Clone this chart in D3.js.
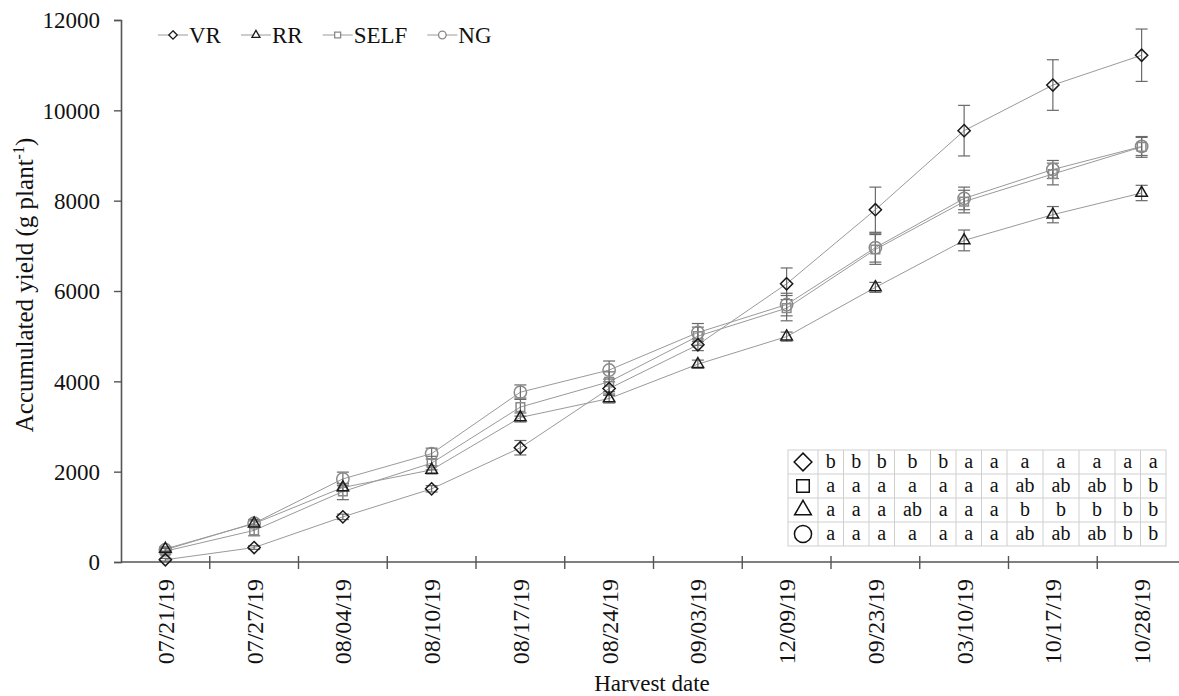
<!DOCTYPE html>
<html>
<head>
<meta charset="utf-8">
<script src="https://cdn.jsdelivr.net/npm/d3@7"></script>
<style>
body { margin: 0; background: #fff; }
svg text { font-family: "Liberation Serif", "Times New Roman", serif; fill: #111; }
</style>
</head>
<body>
<div class="chart"></div>
<script>
// data
var dates = ["07/21/19", "07/27/19", "08/04/19", "08/10/19", "08/17/19", "08/24/19",
             "09/03/19", "12/09/19", "09/23/19", "03/10/19", "10/17/19", "10/28/19"];
var yTicks = [0, 2000, 4000, 6000, 8000, 10000, 12000];

var vr     = [50, 320, 1000, 1620, 2530, 3840, 4810, 6160, 7800, 9550, 10560, 11220];
var vrErr  = [30, 40, 60, 70, 160, 150, 130, 350, 500, 560, 560, 580];
var rr     = [290, 850, 1650, 2040, 3200, 3620, 4380, 4990, 6080, 7120, 7690, 8170];
var rrErr  = [50, 60, 80, 90, 100, 100, 90, 100, 110, 230, 180, 170];
var self   = [240, 700, 1560, 2190, 3430, 3990, 5000, 5620, 6920, 7980, 8590, 9190];
var selfErr = [60, 120, 180, 150, 200, 220, 200, 280, 330, 250, 240, 230];
var ng     = [270, 860, 1840, 2400, 3760, 4250, 5080, 5700, 6960, 8050, 8690, 9200];
var ngErr  = [50, 80, 150, 120, 160, 200, 200, 250, 320, 250, 200, 200];

// letters of the table (rows: VR, SELF, RR, NG)
var tableRows = ["VR", "SELF", "RR", "NG"];
var letters = [
    ["b", "b", "b", "b", "b", "a", "a", "a", "a", "a", "a", "a"],
    ["a", "a", "a", "a", "a", "a", "a", "ab", "ab", "ab", "b", "b"],
    ["a", "a", "a", "ab", "a", "a", "a", "b", "b", "b", "b", "b"],
    ["a", "a", "a", "a", "a", "a", "a", "ab", "ab", "ab", "b", "b"]
];

var series = [
    {name: "VR", values: vr, err: vrErr, symbol: d3.symbolDiamond2, stroke: "#1a1a1a"},
    {name: "RR", values: rr, err: rrErr, symbol: d3.symbolTriangle2, stroke: "#1a1a1a"},
    {name: "SELF", values: self, err: selfErr, symbol: d3.symbolSquare2, stroke: "#8a8a8a"},
    {name: "NG", values: ng, err: ngErr, symbol: d3.symbolCircle, stroke: "#8a8a8a"}
];
var byName = {};
series.forEach(function(s) { byName[s.name] = s; });

// canvas
var width = 1179, height = 696;
var svg = d3.select(".chart").append("svg")
            .attr("width", width)
            .attr("height", height);
var plot = {left: 121, right: 1186, top: 20, bottom: 562};

// scales
var xScale = d3.scaleBand().domain(dates).range([plot.left, plot.right]);
var yScale = d3.scaleLinear().domain([0, 12000]).range([plot.bottom, plot.top]);
var cx = function(i) { return xScale(dates[i]) + xScale.bandwidth() / 2; };

// axes
var yAxis = d3.axisLeft(yScale).tickValues(yTicks).tickSize(7).tickPadding(14).tickFormat(d3.format("d"));
var gy = svg.append("g").attr("transform", "translate(" + plot.left + ",0)").call(yAxis);
gy.select(".domain").attr("stroke", "#555").attr("stroke-width", 1.6);
gy.selectAll(".tick line").attr("stroke", "#555").attr("stroke-width", 1.4);
gy.selectAll(".tick text").attr("font-size", 23).attr("dy", "0.34em");

var gx = svg.append("g").attr("transform", "translate(0," + plot.bottom + ")");
gx.append("line").attr("x1", plot.left).attr("x2", plot.right)
  .attr("stroke", "#555").attr("stroke-width", 1.6);
gx.selectAll(".xtick").data(dates.slice(1)).enter().append("line")
  .attr("class", "xtick")
  .attr("x1", function(d) { return xScale(d); })
  .attr("x2", function(d) { return xScale(d); })
  .attr("y1", -6).attr("y2", 7)
  .attr("stroke", "#555").attr("stroke-width", 1.4);
gx.selectAll(".xlabel").data(dates).enter().append("text")
  .attr("class", "xlabel")
  .attr("transform", function(d) {
      return "translate(" + (xScale(d) + xScale.bandwidth() / 2) + ",17) rotate(-90)";
  })
  .attr("text-anchor", "end")
  .attr("dy", "0.35em")
  .attr("font-size", 24)
  .text(function(d) { return d; });

// axis titles
svg.append("text")
   .attr("x", 652).attr("y", 691)
   .attr("text-anchor", "middle")
   .attr("font-size", 23)
   .text("Harvest date");
var yt = svg.append("text")
   .attr("transform", "translate(33,285) rotate(-90)")
   .attr("text-anchor", "middle")
   .attr("font-size", 25);
yt.append("tspan").text("Accumulated yield (g  plant");
yt.append("tspan").attr("dy", -9).attr("font-size", 16).text("-1");
yt.append("tspan").attr("dy", 9).text(")");

// lines
var line = d3.line()
    .x(function(d, i) { return cx(i); })
    .y(function(d) { return yScale(d); });
svg.selectAll(".series-line").data(series).enter().append("path")
   .attr("class", "series-line")
   .attr("d", function(s) { return line(s.values); })
   .attr("fill", "none")
   .attr("stroke", "#9a9a9a")
   .attr("stroke-width", 1);

// error bars
series.forEach(function(s) {
    var g = svg.append("g").attr("class", "err");
    s.values.forEach(function(v, i) {
        var x = cx(i), y1 = yScale(v + s.err[i]), y2 = yScale(v - s.err[i]);
        g.append("line").attr("x1", x).attr("x2", x).attr("y1", y1).attr("y2", y2);
        g.append("line").attr("x1", x - 6).attr("x2", x + 6).attr("y1", y1).attr("y2", y1);
        g.append("line").attr("x1", x - 6).attr("x2", x + 6).attr("y1", y2).attr("y2", y2);
    });
    g.selectAll("line").attr("stroke", "#6a6a6a").attr("stroke-width", 1.2);
});

// markers
series.slice().reverse().forEach(function(s) {
    svg.selectAll(".m-" + s.name).data(s.values).enter().append("path")
       .attr("class", "m-" + s.name)
       .attr("transform", function(d, i) { return "translate(" + cx(i) + "," + yScale(d) + ")"; })
       .attr("d", d3.symbol().type(s.symbol).size(s.name === "NG" ? 120 : 95))
       .attr("fill", "none")
       .attr("stroke", s.stroke)
       .attr("stroke-width", 1.5);
});

// legend
var legend = svg.append("g").attr("transform", "translate(158,35)");
var lx = 0;
series.forEach(function(s) {
    var item = legend.append("g").attr("transform", "translate(" + lx + ",0)");
    item.append("line").attr("x1", 0).attr("x2", 30).attr("stroke", "#9a9a9a").attr("stroke-width", 1);
    item.append("path").attr("transform", "translate(15,0)")
        .attr("d", d3.symbol().type(s.symbol).size(45))
        .attr("fill", "#fff").attr("stroke", s.stroke).attr("stroke-width", 1.3);
    var t = item.append("text").attr("x", 31).attr("dy", "0.35em").attr("font-size", 23).text(s.name);
    lx += 31 + t.node().getComputedTextLength() + 20;
});

// table
var table = svg.append("g").attr("class", "table");
var tLeft = 788, tTop = 450, rowH = 24, symW = 30;
var colW = d3.range(dates.length).map(function(j) {
    var wide = letters.some(function(r) { return r[j].length > 1; });
    return wide ? 36 : 25.5;
});
var colX = [tLeft + symW];
colW.forEach(function(w, j) { colX.push(colX[j] + w); });
var tRight = colX[colX.length - 1];

table.append("rect").attr("x", tLeft).attr("y", tTop)
     .attr("width", tRight - tLeft).attr("height", rowH * 4)
     .attr("fill", "#fff").attr("stroke", "#cfcfcf");
[tLeft + symW].concat(colX.slice(1, -1)).forEach(function(x) {
    table.append("line").attr("x1", x).attr("x2", x).attr("y1", tTop).attr("y2", tTop + rowH * 4)
         .attr("stroke", "#cfcfcf");
});
d3.range(1, 4).forEach(function(r) {
    table.append("line").attr("x1", tLeft).attr("x2", tRight)
         .attr("y1", tTop + r * rowH).attr("y2", tTop + r * rowH)
         .attr("stroke", "#cfcfcf");
});
tableRows.forEach(function(name, r) {
    var yc = tTop + r * rowH + rowH / 2;
    table.append("path").attr("transform", "translate(" + (tLeft + symW / 2) + "," + yc + ")")
         .attr("d", d3.symbol().type(byName[name].symbol).size(name === "NG" ? 230 : 200))
         .attr("fill", "none").attr("stroke", "#111").attr("stroke-width", 1.5);
    letters[r].forEach(function(l, j) {
        table.append("text")
             .attr("x", colX[j] + colW[j] / 2).attr("y", yc)
             .attr("dy", "0.32em")
             .attr("text-anchor", "middle")
             .attr("font-size", 20)
             .text(l);
    });
});
</script>
</body>
</html>
